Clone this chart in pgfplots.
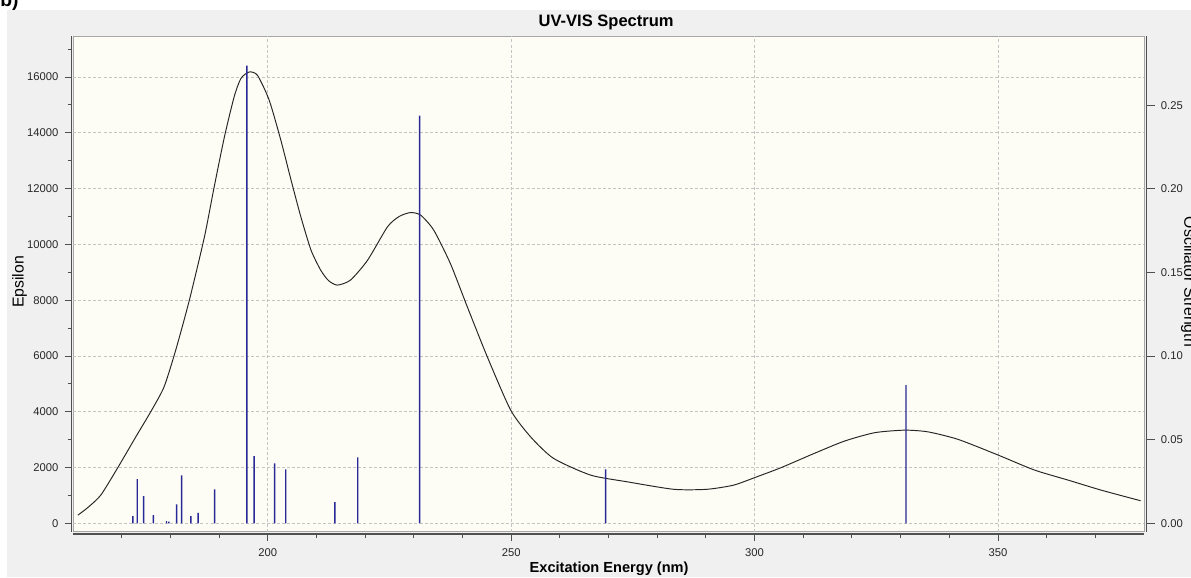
\documentclass[border=0pt]{standalone}
\usepackage{pgfplots}
\pgfplotsset{compat=1.18}
\usepackage{fontspec}
\setmainfont{Liberation Sans}
\definecolor{bgray}{HTML}{F0F0F0}
\definecolor{ivory}{HTML}{FDFDF6}
\definecolor{barblue}{RGB}{40,40,150}
\definecolor{gridc}{HTML}{C4C4C4}
\definecolor{axc}{HTML}{505050}
\begin{document}
\begin{tikzpicture}
\path[use as bounding box] (0,0) rectangle (23.82cm,11.54cm);
\begin{scope}[x=0.02cm,y=0.02cm]
\fill[bgray] (7,0) rectangle (1191,567);
\end{scope}
\begin{axis}[
  at={(1.46cm,0.906cm)}, anchor=south west, scale only axis,
  width=21.42cm, height=9.914cm,
  xmin=160, xmax=380, ymin=-300, ymax=17470,
  axis x line*=bottom, axis y line*=left,
  axis x line shift=0.046cm, axis y line shift=0.03cm,
  axis line style={axc, line width=0.7pt},
  axis background/.style={fill=ivory, draw=gray!70, line width=0.5pt},
  xtick={200,250,300,350},
  minor xtick={170,180,190,210,220,230,240,260,270,280,290,310,320,330,340,360,370},
  ytick={0,2000,4000,6000,8000,10000,12000,14000,16000},
  minor ytick={1000,3000,5000,7000,9000,11000,13000,15000,17000},
  scaled y ticks=false, scaled x ticks=false,
  tick align=outside, major tick length=0.14cm, minor tick length=0.08cm,
  tick style={axc, line width=0.5pt},
  grid=major,
  major grid style={gridc, dash pattern=on 1.7pt off 1.2pt, line width=0.45pt},
  tick label style={font=\fontsize{6.4}{7}\selectfont, text=black!85},
  xticklabel style={yshift=-0.03cm},
  /pgf/number format/1000 sep={},
  /pgf/number format/assume math mode=true,
]
\addplot[color=black!85, line width=0.55pt, smooth, tension=0.4, mark=none] coordinates {
(161.0,294) (163.0,560) (165.7,1010) (169.1,1967) (172.9,3100) (176.0,4010)
(178.7,4890) (181.1,6210) (183.9,8000) (187.0,10270) (189.0,12060) (191.1,13850)
(193.1,15290) (194.5,15950) (196.2,16180) (197.9,16060) (200.3,15170) (202.7,13730)
(204.8,12300) (206.8,10990) (208.9,9790) (210.9,9070) (212.5,8700) (214.3,8540)
(217.0,8720) (220.5,9430) (224.6,10630) (227.0,11000) (229.3,11140) (231.4,11050)
(234.1,10510) (237.5,9320) (241.0,7760) (245.1,5970) (249.9,4060) (254.0,3100)
(258.7,2330) (266.3,1730) (273.8,1490) (283.4,1220) (290.2,1220) (295.7,1370)
(300.5,1670) (305.5,2000) (312.3,2510) (318.5,2950) (324.7,3250) (330.8,3340)
(335.6,3280) (341.8,3010) (350.0,2450) (357.5,1910) (364.4,1550) (371.2,1190)
(379.3,810)
};
\end{axis}
\begin{axis}[
  at={(1.46cm,0.906cm)}, anchor=south west, scale only axis,
  width=21.42cm, height=9.914cm,
  xmin=160, xmax=380, ymin=-0.00502, ymax=0.29145,
  axis x line=none, axis y line*=right,
  axis y line shift=0.054cm,
  axis line style={axc, line width=0.7pt},
  ytick={0,0.05,0.1,0.15,0.2,0.25},
  scaled y ticks=false,
  yticklabel style={/pgf/number format/.cd, fixed, fixed zerofill, precision=2},
  tick align=outside, major tick length=0.16cm,
  tick style={axc, line width=0.5pt},
  tick label style={font=\fontsize{6.4}{7}\selectfont, text=black!85},
  /pgf/number format/assume math mode=true,
]
\addplot[ybar, bar width=0.8pt, fill=barblue, draw=none, mark=none] coordinates {
(172.3,0.0043) (173.2,0.0264) (174.5,0.0162) (176.5,0.0049) (179.2,0.0013)
(179.7,0.0010) (181.3,0.0113) (182.3,0.0287) (184.2,0.0043) (185.7,0.0063)
(189.1,0.0203) (195.7,0.2737) (197.2,0.0402) (201.4,0.0359) (203.7,0.0322)
(213.8,0.0127) (218.5,0.0395) (231.2,0.2438) (269.4,0.0322) (331.1,0.0826)
};
\end{axis}
\begin{scope}[x=0.02cm,y=0.02cm]
\node[anchor=base, inner sep=0, font=\bfseries\fontsize{9.4}{11}\selectfont] at (606,550.3) {UV-VIS Spectrum};
\node[anchor=base, inner sep=0, font=\bfseries\fontsize{8.3}{10}\selectfont] at (609,5) {Excitation Energy (nm)};
\node[rotate=90, anchor=base, inner sep=0, font=\fontsize{9}{11}\selectfont] at (23.5,295) {Epsilon};
\node[rotate=-90, anchor=base, inner sep=0, font=\fontsize{9}{11}\selectfont] at (1184,295) {Oscillator Strength};
\node[anchor=base west, inner sep=0, font=\bfseries\fontsize{11}{13}\selectfont] at (0,570.5) {b)};
\end{scope}
\end{tikzpicture}
\end{document}
